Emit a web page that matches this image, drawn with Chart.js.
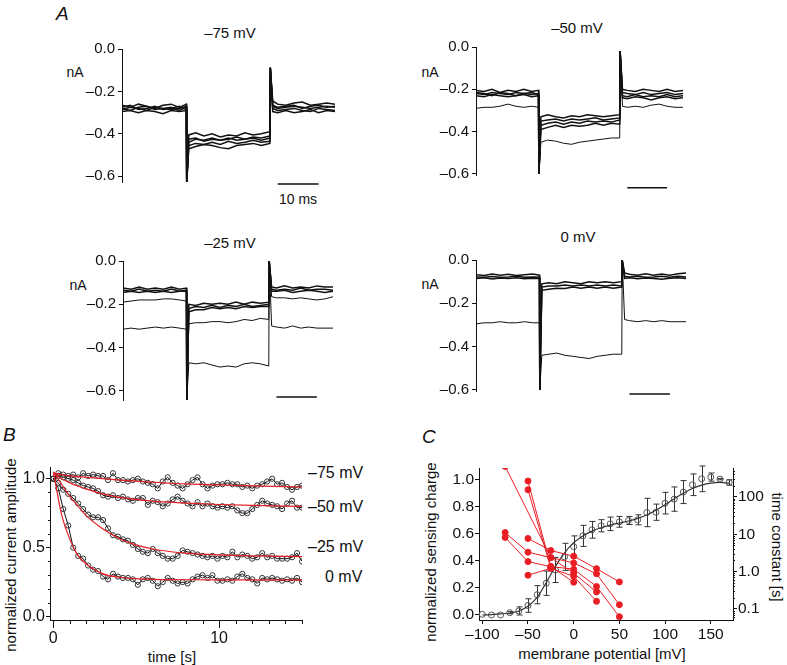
<!DOCTYPE html>
<html>
<head>
<meta charset="utf-8">
<script src="https://cdn.jsdelivr.net/npm/chart.js@4.4.0/dist/chart.umd.min.js"></script>
<style>
  html, body { margin: 0; padding: 0; background: #fff; }
  #fig { position: relative; width: 787px; height: 665px; overflow: hidden;
         font-family: 'Liberation Sans', Arial, Helvetica, sans-serif; color: #111; }
  #fig canvas { position: absolute; }
  .lbl { position: absolute; white-space: nowrap; font-size: 15px; line-height: 1;
         transform: translate(-50%, -50%); }
  .lft { transform: translate(0, -50%); }
  .rotL { transform: translate(-50%, -50%) rotate(-90deg); }
  .rotR { transform: translate(-50%, -50%) rotate(90deg); }
  .panel { font-style: italic; font-size: 19px; transform: none; }
</style>
</head>
<body>
<div id="fig">
  <div class="lbl panel" style="left:56px;top:4px">A</div>
  <div class="lbl panel" style="left:3px;top:425px">B</div>
  <div class="lbl panel" style="left:422px;top:427px">C</div>

  <div class="lbl" style="left:230px;top:32px">–75 mV</div>
  <div class="lbl" style="left:577px;top:27px">–50 mV</div>
  <div class="lbl" style="left:230px;top:242px">–25 mV</div>
  <div class="lbl" style="left:578px;top:236px">0 mV</div>
  <div class="lbl" style="left:75px;top:72px;font-size:14px">nA</div>
  <div class="lbl" style="left:430px;top:72px;font-size:14px">nA</div>
  <div class="lbl" style="left:78px;top:285px;font-size:14px">nA</div>
  <div class="lbl" style="left:430px;top:284px;font-size:14px">nA</div>
  <div class="lbl" style="left:298px;top:199px;font-size:14px">10 ms</div>

  <div class="lbl lft" style="left:308px;top:473px;font-size:16px">–75 mV</div>
  <div class="lbl lft" style="left:308px;top:507px;font-size:16px">–50 mV</div>
  <div class="lbl lft" style="left:308px;top:547px;font-size:16px">–25 mV</div>
  <div class="lbl lft" style="left:325px;top:577px;font-size:16px">0 mV</div>
  <div class="lbl rotL" style="left:10px;top:555px">normalized current amplitude</div>
  <div class="lbl" style="left:172px;top:656px">time [s]</div>

  <div class="lbl rotL" style="left:430px;top:552px">normalized sensing charge</div>
  <div class="lbl" style="left:602px;top:653px">membrane potential [mV]</div>
  <div class="lbl rotR" style="left:777px;top:547px">time constant [s]</div>
</div>

<script>
// ---------- panel A: current traces (nA) on a shared time grid (ms)
const A_TIME = [0,2,4,6,8,10,12,14,15.7,15.8,16.3,18,20,22,24,26,28,30,32,34,36.1,36.2,36.8,38,40,42,44,46,48,50,52];
const A_TICKS = [0, -0.2, -0.4, -0.6];
const SCALE_BAR_MS = [38, 48];

// each trace: 9 pre-pulse | 11 during pulse | 9 post-pulse values
const A75_T1 = [-0.265,-0.275,-0.26,-0.27,-0.28,-0.265,-0.26,-0.275,-0.26, -0.405,-0.395,-0.41,-0.40,-0.415,-0.405,-0.41,-0.395,-0.405,-0.40,-0.39, -0.245,-0.26,-0.265,-0.255,-0.25,-0.265,-0.26,-0.255,-0.26];
const A75_T2 = [-0.28,-0.29,-0.275,-0.27,-0.285,-0.28,-0.275,-0.29,-0.275, -0.44,-0.425,-0.43,-0.42,-0.43,-0.425,-0.415,-0.425,-0.415,-0.42,-0.41, -0.265,-0.275,-0.27,-0.265,-0.28,-0.27,-0.265,-0.275,-0.27];
const A75_T3 = [-0.295,-0.29,-0.30,-0.29,-0.295,-0.305,-0.29,-0.295,-0.29, -0.455,-0.445,-0.45,-0.44,-0.45,-0.435,-0.445,-0.44,-0.43,-0.44,-0.435, -0.28,-0.29,-0.285,-0.28,-0.29,-0.295,-0.28,-0.285,-0.29];
const A75_T4 = [-0.275,-0.265,-0.285,-0.28,-0.27,-0.285,-0.28,-0.27,-0.285, -0.47,-0.46,-0.45,-0.455,-0.465,-0.47,-0.455,-0.45,-0.445,-0.455,-0.445, -0.295,-0.30,-0.29,-0.30,-0.295,-0.285,-0.30,-0.29,-0.295];
const A75_T5 = [-0.285,-0.275,-0.28,-0.29,-0.275,-0.28,-0.285,-0.28,-0.27, -0.425,-0.42,-0.435,-0.425,-0.43,-0.42,-0.43,-0.425,-0.42,-0.43,-0.42, -0.27,-0.28,-0.275,-0.27,-0.275,-0.28,-0.275,-0.27,-0.275];
const A75_SPIKE = [-0.627, -0.088];

const A50_T1 = [-0.205,-0.21,-0.20,-0.215,-0.205,-0.21,-0.20,-0.21,-0.205, -0.33,-0.32,-0.33,-0.335,-0.325,-0.33,-0.32,-0.325,-0.33,-0.325,-0.32, -0.20,-0.205,-0.21,-0.20,-0.205,-0.21,-0.20,-0.21,-0.205];
const A50_T2 = [-0.22,-0.225,-0.215,-0.22,-0.225,-0.215,-0.22,-0.225,-0.22, -0.35,-0.345,-0.34,-0.35,-0.34,-0.345,-0.34,-0.335,-0.345,-0.34,-0.335, -0.215,-0.22,-0.225,-0.215,-0.225,-0.22,-0.215,-0.225,-0.22];
const A50_T3 = [-0.23,-0.235,-0.225,-0.23,-0.235,-0.23,-0.225,-0.235,-0.23, -0.37,-0.36,-0.355,-0.365,-0.355,-0.36,-0.35,-0.355,-0.35,-0.355,-0.345, -0.23,-0.235,-0.225,-0.235,-0.23,-0.235,-0.225,-0.235,-0.23];
const A50_T4 = [-0.215,-0.22,-0.23,-0.215,-0.22,-0.23,-0.22,-0.215,-0.225, -0.39,-0.38,-0.37,-0.38,-0.37,-0.375,-0.37,-0.36,-0.37,-0.36,-0.365, -0.24,-0.245,-0.235,-0.24,-0.25,-0.24,-0.235,-0.245,-0.24];
const A50_O1 = [-0.29,-0.285,-0.285,-0.28,-0.27,-0.28,-0.285,-0.28,-0.285, -0.45,-0.44,-0.445,-0.455,-0.46,-0.45,-0.445,-0.44,-0.435,-0.43,-0.43, -0.28,-0.285,-0.28,-0.285,-0.275,-0.27,-0.28,-0.285,-0.285];
const A50_SPIKE = [-0.60, -0.02];

const A25_T1 = [-0.125,-0.13,-0.12,-0.13,-0.125,-0.13,-0.12,-0.13,-0.125, -0.20,-0.205,-0.195,-0.20,-0.195,-0.20,-0.19,-0.20,-0.19,-0.195,-0.19, -0.12,-0.125,-0.115,-0.125,-0.12,-0.125,-0.115,-0.12,-0.12];
const A25_T2 = [-0.135,-0.14,-0.13,-0.14,-0.135,-0.14,-0.13,-0.14,-0.135, -0.22,-0.21,-0.215,-0.205,-0.215,-0.205,-0.21,-0.20,-0.21,-0.205,-0.20, -0.13,-0.135,-0.13,-0.135,-0.125,-0.135,-0.13,-0.13,-0.135];
const A25_T3 = [-0.145,-0.14,-0.145,-0.14,-0.145,-0.14,-0.145,-0.14,-0.14, -0.235,-0.225,-0.225,-0.215,-0.22,-0.215,-0.22,-0.21,-0.215,-0.21,-0.21, -0.14,-0.14,-0.135,-0.145,-0.14,-0.135,-0.14,-0.145,-0.14];
const A25_O1 = [-0.19,-0.185,-0.18,-0.18,-0.18,-0.175,-0.175,-0.18,-0.185, -0.29,-0.285,-0.285,-0.28,-0.28,-0.285,-0.28,-0.27,-0.275,-0.265,-0.27, -0.165,-0.17,-0.17,-0.175,-0.17,-0.175,-0.18,-0.175,-0.165];
const A25_O2 = [-0.315,-0.31,-0.315,-0.31,-0.305,-0.31,-0.305,-0.31,-0.315, -0.47,-0.475,-0.47,-0.48,-0.49,-0.485,-0.49,-0.475,-0.47,-0.475,-0.485, -0.30,-0.305,-0.31,-0.30,-0.31,-0.305,-0.31,-0.31,-0.31];
const A25_SPIKE = [-0.642, 0.0];

const A0_T1 = [-0.068,-0.072,-0.065,-0.07,-0.066,-0.072,-0.068,-0.065,-0.07, -0.11,-0.105,-0.11,-0.10,-0.105,-0.11,-0.10,-0.105,-0.10,-0.105,-0.10, -0.06,-0.066,-0.07,-0.064,-0.07,-0.065,-0.07,-0.064,-0.06];
const A0_T2 = [-0.078,-0.08,-0.076,-0.08,-0.078,-0.075,-0.08,-0.078,-0.08, -0.125,-0.12,-0.12,-0.115,-0.12,-0.115,-0.12,-0.115,-0.12,-0.115,-0.12, -0.075,-0.078,-0.075,-0.08,-0.078,-0.075,-0.08,-0.075,-0.078];
const A0_T3 = [-0.085,-0.082,-0.088,-0.083,-0.086,-0.082,-0.087,-0.084,-0.085, -0.14,-0.135,-0.13,-0.132,-0.125,-0.13,-0.125,-0.13,-0.125,-0.13,-0.125, -0.085,-0.082,-0.087,-0.083,-0.086,-0.089,-0.084,-0.082,-0.085];
const A0_O1 = [-0.295,-0.29,-0.29,-0.285,-0.29,-0.29,-0.285,-0.29,-0.29, -0.44,-0.435,-0.43,-0.44,-0.445,-0.45,-0.455,-0.445,-0.44,-0.435,-0.435, -0.275,-0.28,-0.285,-0.28,-0.285,-0.28,-0.285,-0.285,-0.285];
const A0_SPIKE = [-0.60, 0.0];

// ---------- panel B: normalized current amplitude vs time
const B_TIME = [0,0.3,0.6,0.9,1.2,1.5,1.8,2.1,2.4,2.7,3,3.3,3.6,3.9,4.2,4.5,4.8,5.1,5.4,5.7,6,6.3,6.6,6.9,7.2,7.5,7.8,8.1,8.4,8.7,9,9.3,9.6,9.9,10.2,10.5,10.8,11.1,11.4,11.7,12,12.3,12.6,12.9,13.2,13.5,13.8,14.1,14.4,14.7,15];
const B_M75 = [1.00,1.04,1.03,1.02,1.03,1.01,1.04,1.02,1.03,1.02,1.02, 0.99,1.04,0.99,0.99,0.98,0.99,1.00,0.98,0.97,0.96, 0.93,0.98,1.01,0.97,0.95,0.93,0.96,0.99,1.01,0.96, 0.93,0.95,0.96,0.96,0.97,0.96,0.96,0.94,0.95,0.93, 0.95,0.96,0.98,1.00,0.96,0.97,0.94,0.92,0.94,0.95];
const B_M50 = [1.00,1.02,1.01,1.00,0.99,0.97,0.95,0.94,0.93,0.91,0.88, 0.87,0.88,0.86,0.87,0.85,0.84,0.86,0.86,0.81,0.84, 0.83,0.80,0.82,0.85,0.87,0.84,0.82,0.80,0.83,0.80, 0.82,0.80,0.79,0.80,0.79,0.80,0.77,0.75,0.75,0.78, 0.81,0.84,0.82,0.81,0.80,0.78,0.82,0.84,0.79,0.79];
const B_M25 = [1.00,0.97,0.92,0.89,0.86,0.82,0.78,0.74,0.72,0.72,0.70, 0.64,0.59,0.58,0.56,0.55,0.52,0.49,0.47,0.46,0.49, 0.46,0.44,0.42,0.42,0.44,0.48,0.47,0.46,0.45,0.44, 0.43,0.44,0.42,0.44,0.43,0.47,0.43,0.45,0.44,0.42, 0.43,0.46,0.43,0.44,0.42,0.42,0.42,0.43,0.46,0.40];
const B_0 = [1.00,0.93,0.78,0.66,0.50,0.44,0.42,0.37,0.34,0.33,0.29, 0.27,0.31,0.29,0.28,0.28,0.27,0.23,0.27,0.28,0.26, 0.22,0.25,0.28,0.26,0.24,0.25,0.24,0.27,0.29,0.30, 0.28,0.30,0.26,0.26,0.27,0.26,0.29,0.31,0.28,0.27, 0.24,0.28,0.27,0.28,0.27,0.26,0.27,0.26,0.28,0.25];
// exponential fits
const B_FIT_T = [0,0.5,1,1.5,2,3,4,5,6,7,8,10,12,15];
const B_FIT_M75 = [1.04,1.03,1.02,1.015,1.01,1.0,0.99,0.982,0.975,0.968,0.962,0.955,0.948,0.94];
const B_FIT_M50 = [1.04,1.0,0.97,0.945,0.925,0.89,0.865,0.85,0.838,0.83,0.823,0.813,0.806,0.80];
const B_FIT_M25 = [1.05,0.96,0.87,0.80,0.73,0.635,0.565,0.52,0.49,0.472,0.46,0.447,0.44,0.435];
const B_FIT_0 = [1.05,0.74,0.56,0.44,0.38,0.31,0.285,0.275,0.27,0.268,0.267,0.266,0.266,0.266];
const B_XTICKS = [0, 10];
const B_XMINOR = [1,2,3,4,5,6,7,8,9,11,12,13,14,15];
const B_YTICKS = [0, 0.5, 1.0];
const B_YMINOR = [0.1,0.2,0.3,0.4,0.6,0.7,0.8,0.9];

// ---------- panel C: sensing charge (left axis) and time constants (right axis)
const C_V = [-100,-90,-80,-70,-60,-50,-40,-30,-20,-10,0,10,20,30,40,50,60,70,80,90,100,110,120,130,140,150,160,170];
const C_Q = [0.005,0.0,0.0,0.017,0.03,0.07,0.15,0.235,0.333,0.43,0.505,0.585,0.63,0.66,0.674,0.689,0.699,0.704,0.758,0.76,0.827,0.857,0.909,0.963,1.007,1.02,1.005,0.98];
const C_ERR = [0,0,0,0.008,0.03,0.05,0.067,0.09,0.093,0.10,0.08,0.078,0.062,0.045,0.05,0.04,0.03,0.037,0.105,0.06,0.08,0.09,0.085,0.08,0.095,0.03,0.005,0.02];
const C_FIT_V = [-100,-90,-80,-70,-60,-50,-40,-30,-20,-10,0,10,20,30,40,50,60,70,80,90,100,110,120,130,140,150,160,170];
const C_FIT_Q = [0.0,0.003,0.008,0.015,0.03,0.065,0.13,0.24,0.36,0.46,0.535,0.585,0.62,0.645,0.665,0.68,0.695,0.715,0.74,0.775,0.815,0.86,0.90,0.935,0.96,0.975,0.98,0.975];
const C_TAU_V = [-75,-50,-25,0,25,50];
const C_CELL1 = [653, null, 2.37, 1.71, 0.87, 0.13];
const C_CELL2 = [null, 265, 1.36, 1.16, 0.40, 0.062];
const C_CELL3 = [null, 155, 1.23, 0.75, 0.16, null];
const C_CELL4 = [11.1, 3.3, 2.37, 0.906, 0.285, null];
const C_CELL5 = [8.2, 1.85, 1.36, 0.52, null, null];
const C_CELL6 = [null, 7.7, 3.66, 2.59, 1.2, 0.53];
const C_CELL7 = [null, 0.8, 1.23, null, null, null];
const C_XTICKS = [-100,-50,0,50,100,150];
const C_YTICKS = [0,0.2,0.4,0.6,0.8,1.0];
const C_TAU_TICKS = [0.1, 1, 10, 100];
const C_TAU_MINOR = [0.06,0.07,0.08,0.09,0.2,0.3,0.4,0.5,0.6,0.7,0.8,0.9,2,3,4,5,6,7,8,9,20,30,40,50,60,70,80,90,200,300,400,500];

// ---------- helpers
Chart.defaults.font.family = "'Liberation Sans', Arial, Helvetica, sans-serif";
Chart.defaults.color = '#111';
const INK = '#111';
const RED = 'rgb(232,30,36)';
const fig = document.getElementById('fig');
const dash = v => (v < 0 ? '\u2013' : '') + Math.abs(v);

function addCanvas(left, top, w, h) {
  const cv = document.createElement('canvas');
  cv.width = w; cv.height = h;
  cv.style.left = left + 'px'; cv.style.top = top + 'px';
  cv.style.width = w + 'px'; cv.style.height = h + 'px';
  fig.appendChild(cv);
  return cv;
}

function axisStyle(len, pad, size) {
  return {
    grid: { drawOnChartArea: false, color: INK, tickLength: len },
    border: { color: INK, width: 1 },
    ticks: { padding: pad, color: INK, font: { size: size }, maxRotation: 0, autoSkip: false }
  };
}

// short unlabelled ticks between the labelled ones
function minorTicks(list) {
  return {
    id: 'minorTicks',
    afterDraw(chart) {
      const { ctx, chartArea: a } = chart;
      ctx.save();
      ctx.strokeStyle = INK; ctx.lineWidth = 1;
      list.forEach(m => {
        const s = chart.scales[m.axis];
        m.values.forEach(v => {
          const p = Math.round(s.getPixelForValue(v)) + 0.5;
          ctx.beginPath();
          if (s.isHorizontal()) { ctx.moveTo(p, a.bottom); ctx.lineTo(p, a.bottom + m.len); }
          else if (s.position === 'left') { ctx.moveTo(a.left, p); ctx.lineTo(a.left - m.len, p); }
          else { ctx.moveTo(a.right, p); ctx.lineTo(a.right + m.len, p); }
          ctx.stroke();
        });
      });
      ctx.restore();
    }
  };
}

const withSpikes = (v, sp) => [...v.slice(0, 9), sp[0], ...v.slice(9, 20), sp[1], ...v.slice(20)];

function tracePanel(p) {
  const [L, T, R, B] = p.area;
  const cv = addCanvas(L - 40, T - 10, R - L + 44, B - T + 26);
  const sets = p.traces.map((v, k) => ({
    data: withSpikes(v, p.spikes).map((y, i) => ({ x: A_TIME[i], y })),
    borderColor: INK, borderWidth: k < p.bundle ? 1.5 : 1, pointRadius: 0
  }));
  sets.push({
    data: SCALE_BAR_MS.map(x => ({ x, y: p.barY })),
    borderColor: INK, borderWidth: 1.5, pointRadius: 0, clip: false
  });
  const y = axisStyle(4, 3, 15);
  new Chart(cv, {
    type: 'line',
    data: { datasets: sets },
    options: {
      responsive: false, animation: false, devicePixelRatio: 1,
      layout: { padding: { top: 10, right: 4, bottom: 16, left: 0 } },
      plugins: { legend: { display: false }, tooltip: { enabled: false } },
      scales: {
        x: { type: 'linear', min: 0, max: 52, display: false },
        y: Object.assign(y, {
          type: 'linear', min: p.yMin, max: 0,
          afterFit: s => { s.width = 40; },
          afterBuildTicks: s => { s.ticks = A_TICKS.map(value => ({ value })); },
          ticks: Object.assign(y.ticks, { callback: v => v === 0 ? '0.0' : '\u2013' + Math.abs(v).toFixed(1) })
        })
      }
    }
  });
}

tracePanel({ area: [122, 47, 335, 182], yMin: -0.627, barY: -0.637, spikes: A75_SPIKE, bundle: 5,
  traces: [A75_T1, A75_T2, A75_T3, A75_T4, A75_T5] });
tracePanel({ area: [476, 45, 683, 175], yMin: -0.605, barY: -0.665, spikes: A50_SPIKE, bundle: 4,
  traces: [A50_T1, A50_T2, A50_T3, A50_T4, A50_O1] });
tracePanel({ area: [123, 259, 333, 400], yMin: -0.642, barY: -0.628, spikes: A25_SPIKE, bundle: 3,
  traces: [A25_T1, A25_T2, A25_T3, A25_O1, A25_O2] });
tracePanel({ area: [476, 258, 686, 391], yMin: -0.605, barY: -0.619, spikes: A0_SPIKE, bundle: 3,
  traces: [A0_T1, A0_T2, A0_T3, A0_O1] });

// ---------- panel B
(function () {
  const cv = addCanvas(0, 455, 370, 210);
  const pts = vals => vals.map((y, i) => ({ x: B_TIME[i], y }));
  const fit = vals => vals.map((y, i) => ({ x: B_FIT_T[i], y }));
  const dataSet = vals => ({
    data: pts(vals), order: 1, borderColor: INK, borderWidth: 1,
    pointRadius: 2.6, pointBorderColor: '#333', pointBorderWidth: 1,
    pointBackgroundColor: 'rgba(0,0,0,0)'
  });
  const fitSet = vals => ({
    data: fit(vals), order: 0, borderColor: RED, borderWidth: 1.2,
    pointRadius: 0, cubicInterpolationMode: 'monotone'
  });
  const x = axisStyle(8, 1, 16), y = axisStyle(4, 1, 16);
  new Chart(cv, {
    type: 'line',
    data: { datasets: [
      fitSet(B_FIT_M75), fitSet(B_FIT_M50), fitSet(B_FIT_M25), fitSet(B_FIT_0),
      dataSet(B_M75), dataSet(B_M50), dataSet(B_M25), dataSet(B_0)
    ] },
    options: {
      responsive: false, animation: false, devicePixelRatio: 1,
      layout: { padding: { top: 12, right: 68, bottom: 0, left: 0 } },
      plugins: { legend: { display: false }, tooltip: { enabled: false } },
      scales: {
        x: Object.assign(x, {
          type: 'linear', min: -0.2, max: 15,
          afterFit: s => { s.height = 45; },
          afterBuildTicks: s => { s.ticks = B_XTICKS.map(value => ({ value })); },
          ticks: Object.assign(x.ticks, { callback: v => String(v) })
        }),
        y: Object.assign(y, {
          type: 'linear', min: -0.025, max: 1.085,
          afterFit: s => { s.width = 50; },
          afterBuildTicks: s => { s.ticks = B_YTICKS.map(value => ({ value })); },
          ticks: Object.assign(y.ticks, { callback: v => v.toFixed(1) })
        })
      }
    },
    plugins: [minorTicks([
      { axis: 'x', values: B_XMINOR, len: 4 },
      { axis: 'y', values: B_YMINOR, len: 2 }
    ])]
  });
})();

// ---------- panel C
(function () {
  const cv = addCanvas(429, 455, 344, 210);
  const errorBars = {
    id: 'errorBars',
    beforeDatasetsDraw(chart) {
      const { ctx, scales: { x, y } } = chart;
      ctx.save();
      ctx.strokeStyle = '#333'; ctx.lineWidth = 1;
      C_V.forEach((v, i) => {
        if (!C_ERR[i]) return;
        const px = Math.round(x.getPixelForValue(v)) + 0.5;
        const top = y.getPixelForValue(C_Q[i] + C_ERR[i]);
        const bot = y.getPixelForValue(C_Q[i] - C_ERR[i]);
        ctx.beginPath();
        ctx.moveTo(px, top); ctx.lineTo(px, bot);
        ctx.moveTo(px - 3, top); ctx.lineTo(px + 3, top);
        ctx.moveTo(px - 3, bot); ctx.lineTo(px + 3, bot);
        ctx.stroke();
      });
      ctx.restore();
    }
  };
  const cell = vals => ({
    yAxisID: 'y2', order: 0,
    data: vals.map((y, i) => ({ x: C_TAU_V[i], y })).filter(d => d.y !== null),
    borderColor: RED, borderWidth: 1, pointRadius: 3,
    pointBackgroundColor: RED, pointBorderColor: RED
  });
  const x = axisStyle(4, 1, 15.5), y = axisStyle(4, 1, 15.5), y2 = axisStyle(4, 1, 15.5);
  const tauLabel = { 0.1: '0.1', 1: '1.0', 10: '10', 100: '100' };
  new Chart(cv, {
    type: 'line',
    data: { datasets: [
      cell(C_CELL1), cell(C_CELL2), cell(C_CELL3), cell(C_CELL4), cell(C_CELL5), cell(C_CELL6), cell(C_CELL7),
      { yAxisID: 'y', order: 1, data: C_FIT_V.map((v, i) => ({ x: v, y: C_FIT_Q[i] })),
        borderColor: '#333', borderWidth: 1.2, pointRadius: 0, cubicInterpolationMode: 'monotone' },
      { yAxisID: 'y', order: 2, data: C_V.map((v, i) => ({ x: v, y: C_Q[i] })), showLine: false,
        pointRadius: 3, pointBorderColor: '#555', pointBorderWidth: 1, pointBackgroundColor: 'rgba(0,0,0,0)' }
    ] },
    options: {
      responsive: false, animation: false, devicePixelRatio: 1,
      layout: { padding: { top: 13, right: 0, bottom: 0, left: 0 } },
      plugins: { legend: { display: false }, tooltip: { enabled: false } },
      scales: {
        x: Object.assign(x, {
          type: 'linear', min: -103.6, max: 174.3,
          afterFit: s => { s.height = 45; },
          afterBuildTicks: s => { s.ticks = C_XTICKS.map(value => ({ value })); },
          ticks: Object.assign(x.ticks, { callback: v => dash(v) })
        }),
        y: Object.assign(y, {
          type: 'linear', position: 'left', min: -0.037, max: 1.087,
          afterFit: s => { s.width = 50; },
          afterBuildTicks: s => { s.ticks = C_YTICKS.map(value => ({ value })); },
          ticks: Object.assign(y.ticks, { callback: v => v.toFixed(1) })
        }),
        y2: Object.assign(y2, {
          type: 'logarithmic', position: 'right', min: 0.0507, max: 592,
          afterFit: s => { s.width = 40; },
          afterBuildTicks: s => { s.ticks = C_TAU_TICKS.map(value => ({ value })); },
          ticks: Object.assign(y2.ticks, { callback: v => tauLabel[v] })
        })
      }
    },
    plugins: [errorBars, minorTicks([{ axis: 'y2', values: C_TAU_MINOR, len: 2 }])]
  });
})();
</script>
</body>
</html>
